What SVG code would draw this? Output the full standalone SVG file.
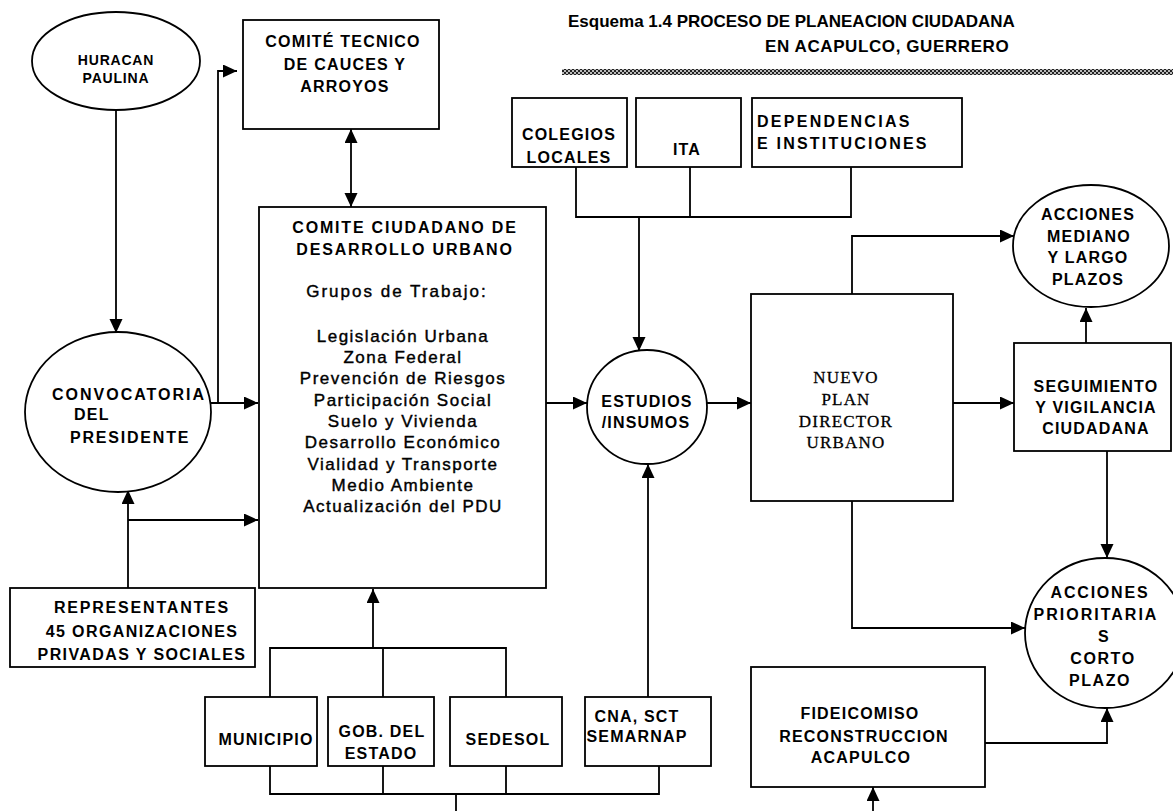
<svg xmlns="http://www.w3.org/2000/svg" width="1173" height="811" viewBox="0 0 1173 811">
<defs>
<marker id="ah" markerUnits="userSpaceOnUse" markerWidth="15" markerHeight="14" refX="14" refY="6.5" orient="auto-start-reverse"><path d="M0,0 L14,6.5 L0,13 z" fill="#000"/></marker>
<pattern id="hatch" width="4" height="4" patternUnits="userSpaceOnUse"><rect width="4" height="4" fill="#bbb"/><rect x="0" y="0" width="2" height="2" fill="#222"/><rect x="2" y="2" width="2" height="2" fill="#222"/></pattern>
<style>
.box{fill:#fff;stroke:#000;stroke-width:1.8}
.ln{fill:none;stroke:#000;stroke-width:1.8}
.ar{fill:none;stroke:#000;stroke-width:1.8;marker-end:url(#ah)}
.lb{font-family:"Liberation Sans",Arial,sans-serif;font-weight:bold;font-size:16px;letter-spacing:1.2px;fill:#000;text-anchor:middle}
.bd{font-family:"Liberation Sans",Arial,sans-serif;font-size:17px;letter-spacing:1.5px;fill:#000;stroke:#000;stroke-width:0.4;text-anchor:middle}
.sf{font-family:"Liberation Serif","Times New Roman",serif;font-size:17px;letter-spacing:1.2px;fill:#000;stroke:#000;stroke-width:0.3;text-anchor:middle}
.tt{font-family:"Liberation Sans",Arial,sans-serif;font-weight:bold;font-size:17px;fill:#000}
</style>
</defs>
<rect width="1173" height="811" fill="#fff"/>

<g id="title">
<text class="tt" x="568" y="27">Esquema 1.4 PROCESO DE PLANEACION CIUDADANA</text>
<text class="tt" style="letter-spacing:0.6px" x="765" y="52">EN ACAPULCO, GUERRERO</text>
<rect x="562" y="69" width="611" height="6" fill="url(#hatch)"/>
</g>

<g id="connectors">
<path class="ar" d="M116,110 V333"/>
<path class="ar" d="M211,403 H258"/>
<path class="ar" d="M218,403 V71 H237"/>
<path class="ln" d="M351,129 V207" marker-start="url(#ah)" marker-end="url(#ah)"/>
<path class="ar" d="M128,588 V490"/>
<path class="ar" d="M128,520 H258"/>
<path class="ar" d="M373,648 V589"/>
<path class="ln" d="M270,697 V648 H506 V697 M383,648 V697"/>
<path class="ln" d="M270,766 V794 H659 V766 M383,766 V794 M506,766 V794 M456,794 V811"/>
<path class="ar" d="M648,697 V464"/>
<path class="ln" d="M576,167 V217 H851 V167 M690,167 V217"/>
<path class="ar" d="M639,217 V351"/>
<path class="ar" d="M546,403 H587"/>
<path class="ar" d="M707,403 H751"/>
<path class="ar" d="M953,403 H1014"/>
<path class="ar" d="M852,294 V236 H1014"/>
<path class="ar" d="M1086,343 V308"/>
<path class="ar" d="M1107,451 V558"/>
<path class="ar" d="M852,501 V628 H1025"/>
<path class="ar" d="M985,743 H1107 V708"/>
<path class="ar" d="M873,811 V787"/>
</g>

<g id="huracan">
<ellipse class="box" cx="116" cy="61" rx="84" ry="49"/>
<text class="lb" style="font-size:14px;letter-spacing:0.8px" x="116" y="65">HURACAN</text>
<text class="lb" style="font-size:14px;letter-spacing:0.8px" x="116" y="83">PAULINA</text>
</g>

<g id="comite-tecnico">
<rect class="box" x="243" y="20" width="196" height="109"/>
<text class="lb" x="343" y="47">COMITÉ TECNICO</text>
<text class="lb" x="345" y="70">DE CAUCES Y</text>
<text class="lb" x="345" y="92">ARROYOS</text>
</g>

<g id="comite-ciudadano">
<rect class="box" x="259" y="207" width="287" height="381"/>
<text class="lb" style="letter-spacing:1.8px" x="405" y="233">COMITE CIUDADANO DE</text>
<text class="lb" style="letter-spacing:1.8px" x="405" y="255">DESARROLLO URBANO</text>
<text class="bd" style="letter-spacing:2px" x="397" y="297">Grupos de Trabajo:</text>
<text class="bd" x="403" y="342">Legislación Urbana</text>
<text class="bd" x="403" y="363">Zona Federal</text>
<text class="bd" x="403" y="384">Prevención de Riesgos</text>
<text class="bd" x="403" y="406">Participación Social</text>
<text class="bd" x="403" y="427">Suelo y Vivienda</text>
<text class="bd" x="403" y="448">Desarrollo Económico</text>
<text class="bd" x="403" y="470">Vialidad y Transporte</text>
<text class="bd" x="403" y="491">Medio Ambiente</text>
<text class="bd" x="403" y="512">Actualización del PDU</text>
</g>

<g id="convocatoria">
<ellipse class="box" cx="118" cy="412" rx="93" ry="80"/>
<text class="lb" style="text-anchor:start;letter-spacing:2px" x="52" y="400">CONVOCATORIA</text>
<text class="lb" style="text-anchor:start" x="74" y="420">DEL</text>
<text class="lb" style="text-anchor:start;letter-spacing:1.8px" x="70" y="443">PRESIDENTE</text>
</g>

<g id="representantes">
<rect class="box" x="10" y="588" width="245" height="79"/>
<text class="lb" style="letter-spacing:1.8px" x="142" y="613">REPRESENTANTES</text>
<text class="lb" style="letter-spacing:1.4px" x="142" y="637">45 ORGANIZACIONES</text>
<text class="lb" style="letter-spacing:1.4px" x="142" y="660">PRIVADAS Y SOCIALES</text>
</g>

<g id="municipio">
<rect class="box" x="205" y="697" width="112" height="69"/>
<text class="lb" x="266" y="745">MUNICIPIO</text>
</g>
<g id="gob-estado">
<rect class="box" x="328" y="697" width="106" height="69"/>
<text class="lb" x="382" y="737">GOB. DEL</text>
<text class="lb" x="381" y="759">ESTADO</text>
</g>
<g id="sedesol">
<rect class="box" x="450" y="697" width="112" height="69"/>
<text class="lb" x="508" y="745">SEDESOL</text>
</g>
<g id="cna">
<rect class="box" x="585" y="697" width="126" height="69"/>
<text class="lb" x="637" y="722">CNA, SCT</text>
<text class="lb" x="637" y="742">SEMARNAP</text>
</g>

<g id="colegios">
<rect class="box" x="512" y="98" width="115" height="69"/>
<text class="lb" x="569" y="140">COLEGIOS</text>
<text class="lb" x="569" y="163">LOCALES</text>
</g>
<g id="ita">
<rect class="box" x="636" y="98" width="105" height="69"/>
<text class="lb" x="687" y="155">ITA</text>
</g>
<g id="dependencias">
<rect class="box" x="752" y="98" width="210" height="69"/>
<text class="lb" style="text-anchor:start;letter-spacing:2.3px" x="757" y="127">DEPENDENCIAS</text>
<text class="lb" style="text-anchor:start;letter-spacing:2.2px" x="757" y="149">E INSTITUCIONES</text>
</g>

<g id="estudios">
<ellipse class="box" cx="647" cy="407" rx="60" ry="57"/>
<text class="lb" x="647" y="407">ESTUDIOS</text>
<text class="lb" x="646" y="428">/INSUMOS</text>
</g>

<g id="nuevo-plan">
<rect class="box" x="751" y="294" width="202" height="207"/>
<text class="sf" x="846" y="383">NUEVO</text>
<text class="sf" x="846" y="405">PLAN</text>
<text class="sf" x="846" y="427">DIRECTOR</text>
<text class="sf" x="846" y="448">URBANO</text>
</g>

<g id="seguimiento">
<rect class="box" x="1014" y="343" width="157" height="108"/>
<text class="lb" x="1096" y="392">SEGUIMIENTO</text>
<text class="lb" x="1096" y="413">Y VIGILANCIA</text>
<text class="lb" x="1096" y="434">CIUDADANA</text>
</g>

<g id="acciones-mediano">
<ellipse class="box" cx="1091" cy="246" rx="78" ry="61"/>
<text class="lb" x="1088" y="220">ACCIONES</text>
<text class="lb" x="1089" y="242">MEDIANO</text>
<text class="lb" x="1088" y="263">Y LARGO</text>
<text class="lb" x="1088" y="285">PLAZOS</text>
</g>

<g id="acciones-prioritarias">
<ellipse class="box" cx="1105" cy="633" rx="80" ry="75"/>
<text class="lb" style="letter-spacing:1.8px" x="1100" y="598">ACCIONES</text>
<text class="lb" style="letter-spacing:2px" x="1096" y="620">PRIORITARIA</text>
<text class="lb" x="1104" y="642">S</text>
<text class="lb" style="letter-spacing:1.6px" x="1103" y="664">CORTO</text>
<text class="lb" style="letter-spacing:1.6px" x="1100" y="686">PLAZO</text>
</g>

<g id="fideicomiso">
<rect class="box" x="751" y="667" width="234" height="120"/>
<text class="lb" x="860" y="719">FIDEICOMISO</text>
<text class="lb" x="864" y="742">RECONSTRUCCION</text>
<text class="lb" x="861" y="763">ACAPULCO</text>
</g>
</svg>
